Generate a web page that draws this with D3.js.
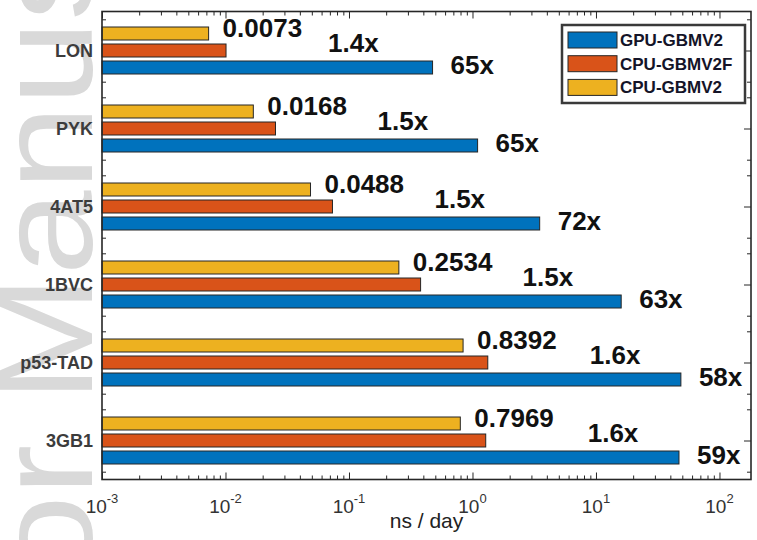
<!DOCTYPE html>
<html>
<head>
<meta charset="utf-8">
<script src="https://cdn.jsdelivr.net/npm/d3@7"></script>
<style>
body { margin: 0; background: #fff; }
svg { display: block; font-family: "Liberation Sans", Arial, sans-serif; }
</style>
</head>
<body>
<div id="main"></div>
<script>

var width = 757,
    height = 540;

// data
var categories = ["LON", "PYK", "4AT5", "1BVC", "p53-TAD", "3GB1"];
var seriesNames = ["GPU-GBMV2", "CPU-GBMV2F", "CPU-GBMV2"];
var gpuGbmv2  = [0.475, 1.10, 3.50, 16.0, 48.7, 47.0];
var cpuGbmv2f = [0.0101, 0.0254, 0.0735, 0.380, 1.33, 1.28];
var cpuGbmv2  = [0.0073, 0.0168, 0.0488, 0.2534, 0.8392, 0.7969];
var valueLabels = ["0.0073", "0.0168", "0.0488", "0.2534", "0.8392", "0.7969"];
var cpuRatios = ["1.4x", "1.5x", "1.5x", "1.5x", "1.6x", "1.6x"];
var gpuRatios = ["65x", "65x", "72x", "63x", "58x", "59x"];
var xTickExps = [-3, -2, -1, 0, 1, 2];

var colors = {"GPU-GBMV2": "#0072bd", "CPU-GBMV2F": "#d95319", "CPU-GBMV2": "#edb120"};

// plot box (window.top is taken, so prefixed names)
var pLeft = 102, pRight = 751, pTop = 11.5, pBottom = 479.5;

var svg = d3.select("div#main").append("svg")
    .attr("width", width)
    .attr("height", height);

// faint watermark running up the left edge
svg.append("text")
    .attr("transform", "translate(92,894) rotate(-90) scale(1.13,1)")
    .attr("font-size", 135)
    .attr("fill", "#d9d9d9")
    .text("Author Manuscript");

var x = d3.scaleLog().domain([1e-3, 180]).range([pLeft, pRight]);
var y = d3.scaleBand().domain(categories).range([pTop, pBottom]);
var yIdx = d3.scaleLinear().domain([0.5, 6.5]).range([pTop, pBottom]);
var inner = d3.scaleBand()
    .domain(["CPU-GBMV2", "CPU-GBMV2F", "GPU-GBMV2"])
    .range([y.bandwidth() / 2 - 23.5, y.bandwidth() / 2 + 23.5])
    .paddingInner(4 / 17);

svg.append("rect")
    .attr("x", pLeft).attr("y", pTop)
    .attr("width", pRight - pLeft).attr("height", pBottom - pTop)
    .attr("fill", "#fff");

// ticks (inward, all four sides)
var xMajor = xTickExps.map(function(e) { return Math.pow(10, e); });
var xMinor = [];
xTickExps.forEach(function(e) {
    for (var m = 2; m <= 9; m++) {
        var v = m * Math.pow(10, e);
        if (v <= 180) xMinor.push(v);
    }
});
var yMajor = [1, 2, 3, 4, 5, 6];
var yMinor = [];
for (var k = 0; k <= 6; k++) {
    [k + 0.4, k + 0.6].forEach(function(v) { if (v > 0.5 && v < 6.5) yMinor.push(v); });
}

function addAxis(axis, tx, ty) {
    var g = svg.append("g").attr("transform", "translate(" + tx + "," + ty + ")").call(axis);
    g.select(".domain").remove();
    g.selectAll("line").attr("stroke", "#262626");
    return g;
}

addAxis(d3.axisBottom(x).tickValues(xMajor).tickSize(-7).tickFormat(""), 0, pBottom);
addAxis(d3.axisBottom(x).tickValues(xMinor).tickSize(-4).tickFormat(""), 0, pBottom);
addAxis(d3.axisTop(x).tickValues(xMajor).tickSize(-7).tickFormat(""), 0, pTop);
addAxis(d3.axisTop(x).tickValues(xMinor).tickSize(-4).tickFormat(""), 0, pTop);
addAxis(d3.axisLeft(yIdx).tickValues(yMajor).tickSize(-7).tickFormat(""), pLeft, 0);
addAxis(d3.axisLeft(yIdx).tickValues(yMinor).tickSize(-4).tickFormat(""), pLeft, 0);
addAxis(d3.axisRight(yIdx).tickValues(yMajor).tickSize(-7).tickFormat(""), pRight, 0);
addAxis(d3.axisRight(yIdx).tickValues(yMinor).tickSize(-4).tickFormat(""), pRight, 0);

// bars
var rows = categories.map(function(c, i) {
    return {
        cat: c,
        vals: {"GPU-GBMV2": gpuGbmv2[i], "CPU-GBMV2F": cpuGbmv2f[i], "CPU-GBMV2": cpuGbmv2[i]},
        value: valueLabels[i], r1: cpuRatios[i], r2: gpuRatios[i]
    };
});

var group = svg.selectAll(".grp")
    .data(rows)
    .enter().append("g")
    .attr("class", "grp")
    .attr("transform", function(d) { return "translate(0," + y(d.cat) + ")"; });

group.selectAll("rect")
    .data(function(d) { return seriesNames.map(function(s) { return {s: s, v: d.vals[s]}; }); })
    .enter().append("rect")
    .attr("x", x(1e-3))
    .attr("y", function(d) { return inner(d.s); })
    .attr("width", function(d) { return x(d.v) - x(1e-3); })
    .attr("height", inner.bandwidth())
    .attr("fill", function(d) { return colors[d.s]; })
    .attr("stroke", "#262626")
    .attr("stroke-width", 1);

// box
svg.append("rect")
    .attr("x", pLeft).attr("y", pTop)
    .attr("width", pRight - pLeft).attr("height", pBottom - pTop)
    .attr("fill", "none")
    .attr("stroke", "#262626")
    .attr("stroke-width", 1.6);

// annotations
var mid = inner.bandwidth() / 2;
group.append("text")
    .attr("x", function(d) { return x(d.vals["CPU-GBMV2"]) + 14; })
    .attr("y", inner("CPU-GBMV2") + mid + 3)
    .text(function(d) { return d.value; });
group.append("text")
    .attr("x", function(d) { return x(d.vals["CPU-GBMV2F"]) + 102; })
    .attr("y", inner("CPU-GBMV2F") + mid + 1)
    .text(function(d) { return d.r1; });
group.append("text")
    .attr("x", function(d) { return x(d.vals["GPU-GBMV2"]) + 18; })
    .attr("y", inner("GPU-GBMV2") + mid + 6)
    .text(function(d) { return d.r2; });
group.selectAll("text")
    .attr("font-size", 26)
    .attr("font-weight", "bold")
    .attr("fill", "#111");

// category labels
svg.selectAll(".cat")
    .data(categories)
    .enter().append("text")
    .attr("class", "cat")
    .attr("x", 93)
    .attr("y", function(d) { return y(d) + y.bandwidth() / 2 + 6; })
    .attr("text-anchor", "end")
    .attr("font-size", 18)
    .attr("font-weight", "bold")
    .attr("fill", "#3c3c3c")
    .text(function(d) { return d; });

// x tick labels 10^n
var tl = svg.selectAll(".xtl")
    .data(xTickExps)
    .enter().append("text")
    .attr("class", "xtl")
    .attr("x", function(d) { return x(Math.pow(10, d)); })
    .attr("y", 513)
    .attr("text-anchor", "middle")
    .attr("font-size", 19)
    .attr("fill", "#333");
tl.append("tspan").text("10");
tl.append("tspan")
    .attr("dy", -10)
    .attr("font-size", 13)
    .text(function(d) { return String(d); });

svg.append("text")
    .attr("x", (pLeft + pRight) / 2)
    .attr("y", 528)
    .attr("text-anchor", "middle")
    .attr("font-size", 21)
    .attr("fill", "#222")
    .text("ns / day");

// legend
var lg = svg.append("g").attr("transform", "translate(562,25)");
lg.append("rect")
    .attr("width", 183).attr("height", 78)
    .attr("fill", "#fff")
    .attr("stroke", "#3a3a3a")
    .attr("stroke-width", 2.5);
var item = lg.selectAll(".item")
    .data(seriesNames)
    .enter().append("g")
    .attr("class", "item")
    .attr("transform", function(d, i) { return "translate(6," + (7 + i * 23.7) + ")"; });
item.append("rect")
    .attr("width", 49).attr("height", 16)
    .attr("fill", function(d) { return colors[d]; })
    .attr("stroke", "#262626");
item.append("text")
    .attr("x", 52)
    .attr("y", 14)
    .attr("font-size", 17)
    .attr("font-weight", "bold")
    .attr("fill", "#141428")
    .text(function(d) { return d; });

</script>
</body>
</html>
